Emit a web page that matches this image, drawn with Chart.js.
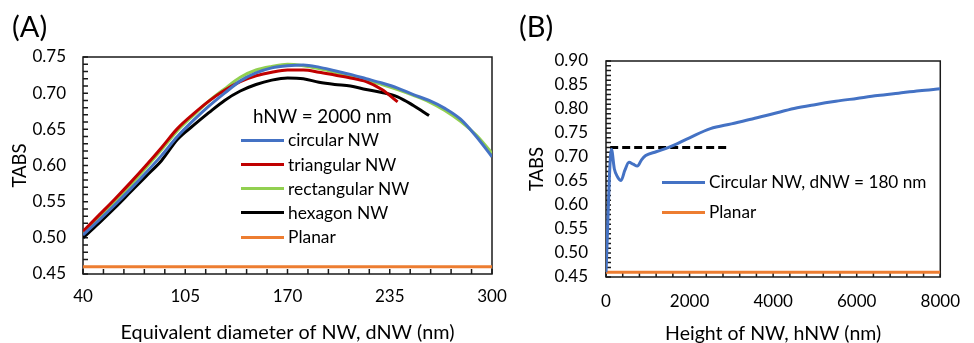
<!DOCTYPE html>
<html>
<head>
<meta charset="utf-8">
<script src="https://cdn.jsdelivr.net/npm/chart.js@4.4.1/dist/chart.umd.min.js"></script>
<style>
  html, body { margin: 0; padding: 0; background: #fff; }
  body { width: 974px; height: 343px; position: relative; overflow: hidden; font-family: Lato, "Open Sans", sans-serif; color: #000; }
  .panel { position: absolute; top: 0; height: 343px; }
  #wrapA { left: 0; width: 520px; }
  #wrapB { left: 500px; width: 474px; }
  .tag { position: absolute; font-size: 29px; line-height: 1; }
  .leg { position: absolute; line-height: 1; white-space: nowrap; }
  #legA { font-size: 17.4px; }
  #legB { font-size: 17.2px; }
  .leg .row { position: absolute; height: 24px; display: flex; align-items: center; }
  .leg .ttl { font-size: 18.8px; }
  .leg .swatch { width: 43px; height: 3px; margin-right: 4px; }
</style>
</head>
<body>
<div class="panel" id="wrapA"><canvas id="chartA"></canvas></div>
<div class="panel" id="wrapB"><canvas id="chartB"></canvas></div>
<div class="tag" style="left:12px; top:11px;">(A)</div>
<div class="tag" style="left:519px; top:11px;">(B)</div>
<div class="leg" id="legA" style="left:241px; top:104px;"></div>
<div class="leg" id="legB" style="left:662px; top:170px;"></div>
<script>
// ── DATA ───────────────────────────────────────────────────────────────────

// Panel A: TABS vs equivalent diameter (hNW = 2000 nm)
const DIAM        = [40, 50, 60, 70, 80, 90, 100, 110, 120, 130, 140, 150, 160, 170, 180, 190, 200, 210, 220, 230, 240, 250, 260, 270, 280, 290, 300];
const CIRCULAR    = [0.504, 0.524, 0.545, 0.567, 0.590, 0.614, 0.640, 0.662, 0.682, 0.700, 0.717, 0.728, 0.735, 0.738, 0.739, 0.736, 0.731, 0.726, 0.720, 0.714, 0.707, 0.698, 0.690, 0.679, 0.664, 0.640, 0.612];
const TRIANGULAR  = [0.509, 0.531, 0.553, 0.576, 0.600, 0.625, 0.651, 0.671, 0.689, 0.704, 0.716, 0.724, 0.729, 0.732, 0.732, 0.729, 0.725, 0.721, 0.716, 0.705, 0.688];
const RECTANGULAR = [0.508, 0.528, 0.549, 0.572, 0.597, 0.622, 0.648, 0.669, 0.689, 0.706, 0.722, 0.732, 0.737, 0.740, 0.738, 0.734, 0.729, 0.724, 0.718, 0.712, 0.705, 0.697, 0.688, 0.676, 0.661, 0.642, 0.617];
const HEXAGON     = [0.500, 0.520, 0.541, 0.563, 0.585, 0.607, 0.636, 0.655, 0.673, 0.690, 0.703, 0.712, 0.718, 0.721, 0.720, 0.715, 0.712, 0.710, 0.705, 0.701, 0.695, 0.683, 0.669];
const PLANAR_A_X  = [40, 300];
const PLANAR_A    = [0.46, 0.46];

// Panel B: TABS vs nanowire height (circular, dNW = 180 nm)
const HEIGHT      = [0, 130, 200, 280, 360, 450, 550, 650, 750, 850, 950, 1200, 1500, 2000, 2500, 3000, 3500, 4000, 4500, 5000, 5500, 6000, 6500, 7000, 7500, 8000];
const CIRC_180    = [0.46, 0.716, 0.675, 0.658, 0.651, 0.672, 0.689, 0.685, 0.681, 0.694, 0.703, 0.711, 0.720, 0.740, 0.759, 0.769, 0.779, 0.790, 0.801, 0.809, 0.816, 0.822, 0.828, 0.833, 0.838, 0.842];
const REF_X       = [100, 2900];
const REF_Y       = [0.72, 0.72];
const PLANAR_B_X  = [0, 8000];
const PLANAR_B    = [0.46, 0.46];

// ── STYLE ──────────────────────────────────────────────────────────────────

const COLORS = {
  blue:   '#4472C4',
  red:    '#C00000',
  green:  '#92D050',
  black:  '#000000',
  orange: '#ED7D31',
  axis:   '#1a1a1a',
};
const FONT      = 'Lato, "Open Sans", sans-serif';
const TICK_FONT = { family: FONT, size: 17 };
const TICK_LEN  = 5;

const pts = (xs, ys) => ys.map((v, i) => ({ x: xs[i], y: v }));

function line(label, xs, ys, color, extra) {
  return Object.assign({
    label,
    data: pts(xs, ys),
    borderColor: color,
    backgroundColor: color,
    borderWidth: 3,
    pointRadius: 0,
    fill: false,
    cubicInterpolationMode: 'monotone',
  }, extra || {});
}

// box round the plot plus inward tick marks, both from the scales
const frame = {
  id: 'frame',
  beforeDatasetsDraw(chart) {
    const { ctx, chartArea: a, scales: { x, y } } = chart;
    ctx.save();
    ctx.strokeStyle = COLORS.axis;
    ctx.lineWidth = 1.5;
    ctx.beginPath();
    x.ticks.forEach((t, i) => {
      const px = x.getPixelForTick(i);
      ctx.moveTo(px, a.bottom);
      ctx.lineTo(px, a.bottom - TICK_LEN);
    });
    y.ticks.forEach((t, i) => {
      const py = y.getPixelForTick(i);
      ctx.moveTo(a.left, py);
      ctx.lineTo(a.left + TICK_LEN, py);
    });
    ctx.stroke();
    ctx.strokeRect(a.left, a.top, a.right - a.left, a.bottom - a.top);
    ctx.restore();
  },
};

function axis(opts) {
  return {
    type: 'linear',
    min: opts.min,
    max: opts.max,
    grid:   { display: false, drawTicks: false },
    border: { display: false },
    ticks: {
      stepSize: opts.step,
      maxTicksLimit: 100,
      autoSkip: false,
      maxRotation: 0,
      padding: opts.pad,
      color: '#000',
      font: TICK_FONT,
      callback: opts.label,
    },
    title: {
      display: true,
      text: opts.title,
      color: '#000',
      font: { family: FONT, size: opts.titleSize, lineHeight: 1 },
      padding: opts.titlePad,
    },
    afterFit: opts.fit,
  };
}

function baseOptions(padding, x, y) {
  return {
    responsive: false,
    animation: false,
    layout: { padding },
    plugins: { legend: { display: false }, tooltip: { enabled: false } },
    scales: { x, y },
  };
}

// ── PANEL A ────────────────────────────────────────────────────────────────

const SERIES_A = [
  line('circular NW',    DIAM, CIRCULAR,    COLORS.blue),
  line('triangular NW',  DIAM, TRIANGULAR,  COLORS.red),
  line('rectangular NW', DIAM, RECTANGULAR, COLORS.green),
  line('hexagon NW',     DIAM, HEXAGON,     COLORS.black),
  line('Planar',         PLANAR_A_X, PLANAR_A, COLORS.orange, { cubicInterpolationMode: 'default', tension: 0 }),
];

const cA = document.getElementById('chartA');
cA.width = 520; cA.height = 343;
new Chart(cA, {
  type: 'line',
  data: { datasets: SERIES_A },
  options: baseOptions(
    { left: 0, right: 28, top: 57, bottom: 0 },
    axis({
      min: 40, max: 300, step: 13, pad: 12,
      label: v => ((Math.round(v) - 40) % 65 === 0 ? String(Math.round(v)) : ''),
      title: 'Equivalent diameter of NW, dNW (nm)',
      titleSize: 19.8,
      titlePad: { top: 0, bottom: 0 },
      fit: s => { s.height = 69; },
    }),
    axis({
      min: 0.45, max: 0.75, step: 0.01, pad: 17,
      label: v => (Math.round(v * 100) % 5 === 0 ? v.toFixed(2) : ''),
      title: 'TABS',
      titleSize: 18.5,
      titlePad: { top: 11, bottom: 0 },
      fit: s => { s.width = 83; },
    })
  ),
  plugins: [frame],
});

// ── PANEL B ────────────────────────────────────────────────────────────────

const SERIES_B = [
  line('Circular NW, dNW = 180 nm', HEIGHT, CIRC_180, COLORS.blue),
  line('Planar', PLANAR_B_X, PLANAR_B, COLORS.orange, { cubicInterpolationMode: 'default', tension: 0 }),
  line('', REF_X, REF_Y, COLORS.black, { borderDash: [8, 4], cubicInterpolationMode: 'default', tension: 0 }),
];

const cB = document.getElementById('chartB');
cB.width = 474; cB.height = 343;
new Chart(cB, {
  type: 'line',
  data: { datasets: SERIES_B },
  options: baseOptions(
    { left: 0, right: 19, top: 61, bottom: 0 },
    axis({
      min: 0, max: 8000, step: 400, pad: 14,
      label: v => (Math.round(v) % 2000 === 0 ? String(Math.round(v)) : ''),
      title: 'Height of NW, hNW (nm)',
      titleSize: 19.5,
      titlePad: { top: 0, bottom: 0 },
      fit: s => { s.height = 66; },
    }),
    axis({
      min: 0.45, max: 0.90, step: 0.01, pad: 18,
      label: v => (Math.round(v * 100) % 5 === 0 ? v.toFixed(2) : ''),
      title: 'TABS',
      titleSize: 18.5,
      titlePad: { top: 28, bottom: 0 },
      fit: s => { s.width = 106; },
    })
  ),
  plugins: [frame],
});

// ── LEGENDS (html, built from the dataset list) ────────────────────────────

function buildLegend(el, title, datasets, rowStep, firstRow) {
  let html = '';
  if (title) html += `<div class="row ttl" style="left:12px; top:0px;">${title}</div>`;
  datasets.filter(d => d.label).forEach((d, i) => {
    html += `<div class="row" style="left:0; top:${firstRow + i * rowStep}px;">` +
            `<div class="swatch" style="background:${d.borderColor}"></div>${d.label}</div>`;
  });
  el.innerHTML = html;
}
buildLegend(document.getElementById('legA'), 'hNW = 2000 nm', SERIES_A, 24.3, 24);
buildLegend(document.getElementById('legB'), '', SERIES_B, 30, 0);
</script>
</body>
</html>
